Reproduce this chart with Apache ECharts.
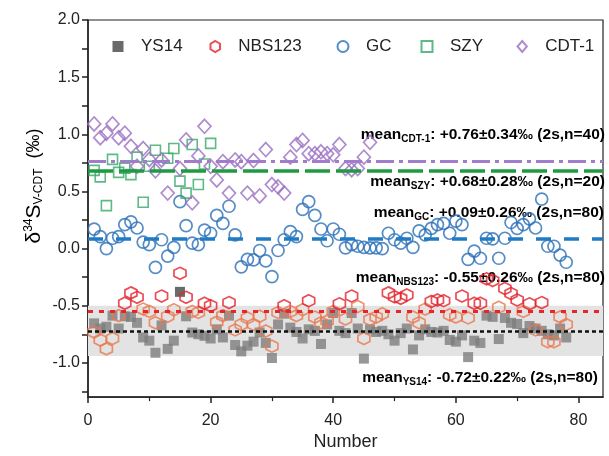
<!DOCTYPE html>
<html>
<head>
<meta charset="utf-8">
<script src="https://cdn.jsdelivr.net/npm/echarts@6/dist/echarts.min.js"></script>
<style>
  html, body { margin: 0; padding: 0; background: #fff; }
  #chart { width: 609px; height: 456px; }
</style>
</head>
<body>
<div id="chart"></div>
<script>
// Sulfur isotope reference measurements, one value per run number
const ys14 = [-0.655,-0.70,-0.684,-0.587,-0.70,-0.593,-0.598,-0.65,-0.778,-0.806,
  -0.912,-0.673,-0.878,-0.806,-0.379,-0.593,-0.735,-0.75,-0.764,-0.787,
  -0.707,-0.778,-0.587,-0.844,-0.90,-0.85,-0.815,-0.735,-0.826,-0.958,
  -0.664,-0.57,-0.692,-0.73,-0.787,-0.707,-0.721,-0.835,-0.664,-0.564,
  -0.72,-0.74,-0.564,-0.70,-0.963,-0.707,-0.73,-0.72,-0.75,-0.806,
  -0.74,-0.70,-0.883,-0.76,-0.707,-0.73,-0.735,-0.72,-0.80,-0.815,
  -0.76,-0.95,-0.806,-0.826,-0.587,-0.598,-0.792,-0.607,-0.65,-0.66,
  -0.74,-0.678,-0.70,-0.72,-0.75,-0.76,-0.70,-0.778];
const nbs123 = [-0.73,-0.80,-0.878,-0.787,-0.587,-0.479,-0.388,-0.427,-0.53,-0.55,
  -0.65,-0.416,-0.593,-0.536,-0.217,-0.427,-0.55,-0.559,-0.479,-0.50,
  -0.644,-0.587,-0.473,-0.712,-0.664,-0.607,-0.664,-0.593,-0.721,-0.855,
  -0.559,-0.50,-0.55,-0.587,-0.536,-0.456,-0.60,-0.65,-0.636,-0.55,
  -0.484,-0.616,-0.416,-0.507,-0.787,-0.62,-0.60,-0.57,-0.388,-0.422,
  -0.436,-0.407,-0.60,-0.65,-0.53,-0.464,-0.45,-0.456,-0.58,-0.60,
  -0.416,-0.607,-0.479,-0.479,-0.265,-0.279,-0.513,-0.35,-0.393,-0.45,
  -0.55,-0.484,-0.712,-0.473,-0.815,-0.815,-0.598,-0.664];
const gc = [0.17,0.105,0.0,0.09,0.105,0.21,0.234,0.18,0.057,0.034,
  -0.165,0.077,-0.066,0.011,0.41,0.20,0.048,0.034,0.162,0.134,
  0.29,0.22,0.37,0.12,-0.16,-0.094,-0.10,-0.017,-0.108,-0.245,
  -0.017,0.077,0.148,0.105,0.342,0.41,0.29,0.171,0.068,0.171,
  0.125,0.006,0.034,0.02,0.011,0.006,0.006,0.0,0.134,0.077,
  0.048,0.09,0.011,0.154,0.12,0.177,0.21,0.22,0.134,0.24,
  0.21,-0.094,-0.023,-0.085,0.09,0.085,-0.085,0.09,0.228,0.177,
  0.21,0.26,0.18,0.433,0.02,0.02,-0.057,-0.12];
const szy = [0.684,0.627,0.376,0.78,0.667,0.704,0.647,0.80,0.405,0.72,
  0.86,null,0.79,0.875,0.59,0.485,0.91,0.56,0.74,0.92];
const cdt1 = [1.09,0.97,1.01,1.09,0.97,1.01,0.895,0.72,0.875,0.78,
  0.68,0.775,0.485,null,0.70,0.95,0.40,0.81,1.07,0.72,
  0.60,0.76,0.485,0.775,0.76,0.485,0.77,0.46,0.866,0.56,
  0.54,0.485,0.80,0.91,0.946,0.83,0.83,0.846,0.83,0.82,
  0.91,0.70,0.69,0.70,0.80,0.93];

// Summary statistics per standard: mean, 2s and n
const seriesNames = ['YS14', 'NBS123', 'GC', 'SZY', 'CDT-1'];
const means = [-0.72, -0.55, 0.09, 0.68, 0.76];
const twoSigma = [0.22, 0.26, 0.26, 0.28, 0.34];
const counts = [80, 80, 80, 20, 40];

const xTicks = [0, 20, 40, 60, 80];
const yTicks = [-1.0, -0.5, 0.0, 0.5, 1.0, 1.5, 2.0];
const yMinorTicks = [-1.25, -0.75, -0.25, 0.25, 0.75, 1.25, 1.75];

const FONT = 'Liberation Sans, Arial, sans-serif';
const HEX = 'path://M0,-1L0.866,-0.5L0.866,0.5L0,1L-0.866,0.5L-0.866,-0.5Z';
const SQUARE = 'path://M0,0H1V1H0Z';
const DIAMOND = 'path://M0,-1L0.85,0L0,1L-0.85,0Z';

function toPoints(values) {
  const pts = [];
  values.forEach((v, i) => { if (v !== null) pts.push([i + 1, v]); });
  return pts;
}

const chart = echarts.init(document.getElementById('chart'), null, { renderer: 'canvas' });

function meanLine(idx, style) {
  return {
    silent: true,
    symbol: 'none',
    label: { show: false },
    emphasis: { disabled: true },
    lineStyle: style,
    data: [{ yAxis: means[idx] }]
  };
}

const hollow = 'rgba(255,255,255,0)';

const series = [
  {
    // shaded 2s range of YS14
    type: 'scatter', data: [], z: 1, silent: true,
    markArea: {
      silent: true,
      itemStyle: { color: '#e3e3e3' },
      data: [[{ yAxis: means[0] - twoSigma[0] }, { yAxis: means[0] + twoSigma[0] }]]
    }
  },
  {
    name: 'YS14', type: 'scatter', z: 3, symbol: 'rect', symbolSize: 10,
    itemStyle: { color: '#454545' },
    data: toPoints(ys14).map(p => ({ value: p, itemStyle: { color: p[1] > -0.5 ? '#454545' : '#7d7d7d' } })),
    markLine: meanLine(0, { color: '#111', width: 2.5, type: [4, 3] })
  },
  {
    name: 'NBS123', type: 'scatter', z: 3, symbol: HEX, symbolSize: 12,
    itemStyle: { color: hollow, borderColor: '#e3202a', borderWidth: 1.7 },
    data: toPoints(nbs123).map(p => ({ value: p, itemStyle: { color: hollow, borderColor: p[1] > -0.505 ? '#e3202a' : '#e8784f', borderWidth: 1.7 } })),
    markLine: meanLine(1, { color: '#e8262a', width: 3, type: [5, 6] })
  },
  {
    name: 'GC', type: 'scatter', z: 3, symbol: 'circle', symbolSize: 12,
    itemStyle: { color: hollow, borderColor: '#2b6fb6', borderWidth: 1.7 },
    data: toPoints(gc),
    markLine: meanLine(2, { color: '#1f7cc4', width: 3.5, type: [15, 13] })
  },
  {
    name: 'SZY', type: 'scatter', z: 3, symbol: 'rect', symbolSize: 10,
    itemStyle: { color: hollow, borderColor: '#36a866', borderWidth: 1.6 },
    data: toPoints(szy),
    markLine: meanLine(3, { color: '#1f9a40', width: 3.5, type: [25, 6] })
  },
  {
    name: 'CDT-1', type: 'scatter', z: 3, symbol: 'diamond', symbolSize: [13, 14],
    itemStyle: { color: hollow, borderColor: '#9a6fc2', borderWidth: 1.7 },
    data: toPoints(cdt1),
    markLine: meanLine(4, { color: '#a07ccb', width: 3, type: [18, 5, 4, 5] })
  }
];

// one legend box per standard so each entry sits at its own spot
const legendIcons = [SQUARE, HEX, 'circle', SQUARE, DIAMOND];
const legendCenters = [118, 215, 342, 426, 522];
const legends = seriesNames.map((n, i) => ({
  data: [{ name: n, icon: legendIcons[i] }],
  left: legendCenters[i] - 5.5,
  top: 38,
  padding: 0,
  itemWidth: 36,
  itemHeight: 11,
  selectedMode: false,
  textStyle: { fontSize: 17, color: '#222', fontFamily: FONT }
}));

// mean ± 2s annotations
const sub = { fontSize: 10, fontWeight: 'bold', fontFamily: FONT, color: '#222', padding: [9, 0, 0, 0] };
const main = { fontSize: 15.5, fontWeight: 'bold', fontFamily: FONT, color: '#222' };
function fmt(v) { return (v >= 0 ? '+' : '') + v.toFixed(2); }
const annoPos = [[598, 378], [605, 278], [604, 213], [605, 182], [605, 135]];
const annotations = seriesNames.map((n, i) => ({
  type: 'text',
  x: annoPos[i][0], y: annoPos[i][1],
  silent: true,
  style: {
    text: '{m|mean}{s|' + n + '}{m|: ' + fmt(means[i]) + '±' + twoSigma[i].toFixed(2) + '‰ (2s,n=' + counts[i] + ')}',
    align: 'right', verticalAlign: 'middle',
    rich: { m: main, s: sub }
  }
}));

const yTitle = {
  type: 'text',
  x: 34, y: 186,
  rotation: Math.PI / 2,
  silent: true,
  style: {
    text: '{d|δ}{sup|34}{d|S}{sub|V-CDT}{p|  (‰)}',
    align: 'center', verticalAlign: 'middle',
    rich: {
      d: { fontSize: 21, fontFamily: FONT, color: '#222' },
      sup: { fontSize: 12, fontFamily: FONT, color: '#222', padding: [0, 0, 10, 0] },
      sub: { fontSize: 12, fontFamily: FONT, color: '#222', padding: [10, 0, 0, 0] },
      p: { fontSize: 18, fontFamily: FONT, color: '#333' }
    }
  }
};

chart.setOption({
  animation: false,
  backgroundColor: '#fff',
  grid: { left: 88, right: 6, top: 20, bottom: 52, show: true, borderColor: '#222', borderWidth: 1.2, backgroundColor: 'transparent' },
  legend: legends,
  xAxis: {
    type: 'value', min: 0, max: 84,
    name: 'Number', nameLocation: 'middle', nameGap: 30,
    nameTextStyle: { fontSize: 18, color: '#222', fontFamily: FONT },
    splitLine: { show: false },
    axisLine: { show: true, onZero: false, lineStyle: { color: '#222', width: 1.5 } },
    axisTick: { show: true, length: 6, customValues: xTicks, lineStyle: { color: '#222', width: 1.5 } },
    minorTick: { show: true, splitNumber: 2, length: 4, lineStyle: { color: '#222', width: 1.2 } },
    axisLabel: { customValues: xTicks, fontSize: 16, color: '#222', fontFamily: FONT, margin: 15 }
  },
  yAxis: {
    type: 'value', min: -1.3, max: 2.0,
    splitLine: { show: false },
    axisLine: { show: true, onZero: false, lineStyle: { color: '#222', width: 1.5 } },
    axisTick: { show: true, length: 6, customValues: yTicks.concat(yMinorTicks), lineStyle: { color: '#222', width: 1.5 } },
    axisLabel: { customValues: yTicks, formatter: v => v.toFixed(1), fontSize: 16, color: '#222', fontFamily: FONT, margin: 8 }
  },
  graphic: annotations.concat([yTitle]),
  series: series
});
</script>
</body>
</html>
